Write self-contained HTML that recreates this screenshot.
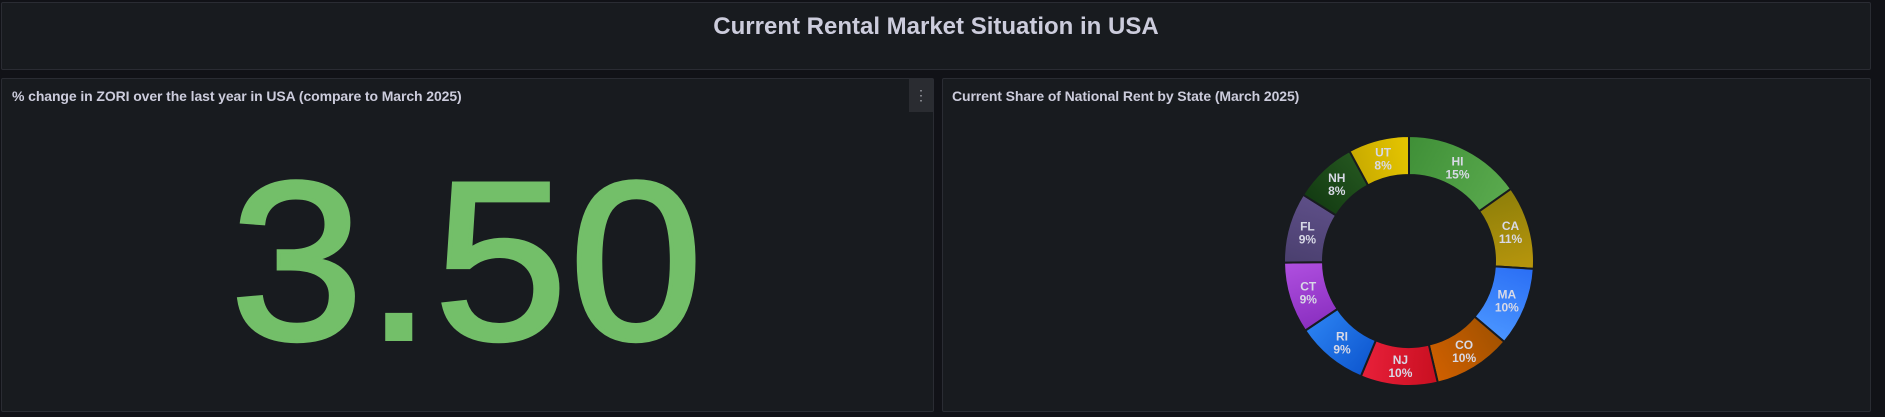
<!DOCTYPE html>
<html><head><meta charset="utf-8">
<style>
body{margin:0;width:1885px;height:417px;background:#111217;overflow:hidden;font-family:"Liberation Sans",sans-serif;position:relative}
.panel{position:absolute;background:#181b1f;border:1px solid #2a2c33;border-radius:2px;box-sizing:border-box}
.ptitle{position:absolute;top:9px;font-size:14px;color:#ccccdc;font-weight:bold;letter-spacing:-0.1px}
</style></head><body>
<div class="panel" style="left:1px;top:2px;width:1870px;height:68px">
  <div style="position:absolute;left:0;right:0;top:10px;text-align:center;font-size:24px;font-weight:bold;color:#ccccdc">Current Rental Market Situation in USA</div>
</div>
<div class="panel" style="left:1px;top:78px;width:933px;height:334px">
  <div class="ptitle" style="left:10px">% change in ZORI over the last year in USA (compare to March 2025)</div>
  <div style="position:absolute;right:0;top:0;width:24px;height:33px;background:#2a2c31;color:#9fa1a8;text-align:center;font-size:14px;line-height:33px">&#8942;</div>
  <div style="position:absolute;left:0;right:0;top:62px;text-align:center;font-size:226px;line-height:240px;color:#73bf69;-webkit-text-stroke:4px #73bf69;letter-spacing:2px;transform:scaleX(1.06)">3.50</div>
</div>
<div class="panel" style="left:942px;top:78px;width:929px;height:334px">
  <div class="ptitle" style="left:9px">Current Share of National Rent by State (March 2025)</div>
</div>
<svg id="donut" width="1885" height="417" style="position:absolute;left:0;top:0">
<defs></defs>
</svg>
<script>
const states=["HI","CA","MA","CO","NJ","RI","CT","FL","NH","UT"];
const shares=[15.2,10.8,10.2,10.1,10.0,9.3,9.2,9.1,8.2,7.9];
const labels=["15%","11%","10%","10%","10%","9%","9%","9%","8%","8%"];
const colors=[["#3f8f37","#5aaa4e"],["#8e7f0a","#b8960c"],["#2a6ef5","#4a95ff"],["#a35200","#d06000"],["#c80f20","#e8203a"],["#0f58d0","#2a80f0"],["#8a2fc0","#b050e0"],["#4a3f6e","#5e4f88"],["#133b12","#24561f"],["#c8aa00","#e6c600"]];
const cx=1409,cy=261,R=125,r=86;
const svg=document.getElementById('donut');
const NS='http://www.w3.org/2000/svg';
const total=shares.reduce((a,b)=>a+b,0);
function pt(rad,a){return [cx+rad*Math.sin(a),cy-rad*Math.cos(a)];}
let acc=0;
shares.forEach((v,i)=>{
  const a0=acc/total*2*Math.PI, a1=(acc+v)/total*2*Math.PI; acc+=v;
  const big=(a1-a0)>Math.PI?1:0;
  const p1=pt(R,a0),p2=pt(R,a1),p3=pt(r,a1),p4=pt(r,a0);
  const g=document.createElementNS(NS,'linearGradient');
  g.setAttribute('id','g'+i);
  const m=pt(R,a0),n=pt(R,a1);
  g.setAttribute('gradientUnits','userSpaceOnUse');
  g.setAttribute('x1',m[0]);g.setAttribute('y1',m[1]);g.setAttribute('x2',n[0]);g.setAttribute('y2',n[1]);
  g.innerHTML='<stop offset="0" stop-color="'+colors[i][0]+'"/><stop offset="1" stop-color="'+colors[i][1]+'"/>';
  svg.querySelector('defs').appendChild(g);
  const p=document.createElementNS(NS,'path');
  p.setAttribute('d',`M${p1[0]},${p1[1]} A${R},${R} 0 ${big} 1 ${p2[0]},${p2[1]} L${p3[0]},${p3[1]} A${r},${r} 0 ${big} 0 ${p4[0]},${p4[1]} Z`);
  p.setAttribute('fill','url(#g'+i+')');
  p.setAttribute('stroke','#181b1f');p.setAttribute('stroke-width','2');p.setAttribute('stroke-linejoin','round');
  
  
  svg.appendChild(p);
  const am=(a0+a1)/2, lp=pt((R+r)/2,am);
  const t=document.createElementNS(NS,'text');
  t.setAttribute('x',lp[0]);t.setAttribute('y',lp[1]-2);
  t.setAttribute('text-anchor','middle');t.setAttribute('fill','#d8d9e6');
  t.setAttribute('font-size','12');t.setAttribute('font-weight','bold');t.setAttribute('font-family','Liberation Sans, sans-serif');
  
  
  t.innerHTML='<tspan x="'+lp[0]+'">'+states[i]+'</tspan><tspan x="'+lp[0]+'" dy="13">'+labels[i]+'</tspan>';
  svg.appendChild(t);
});
</script>
</body></html>
